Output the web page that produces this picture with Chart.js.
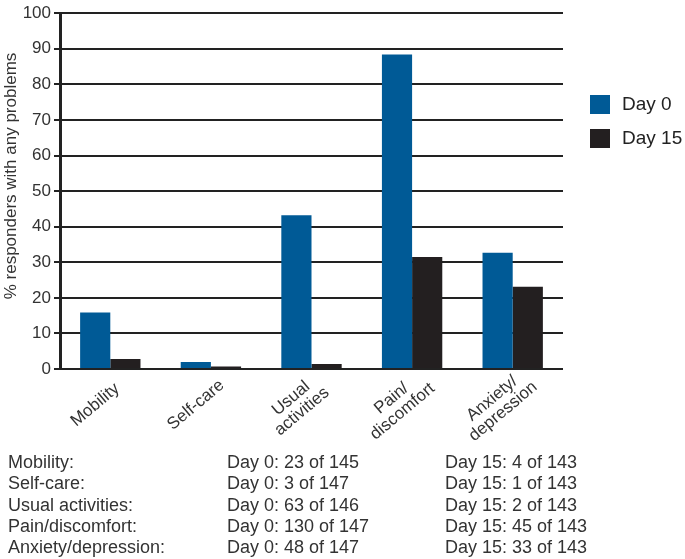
<!DOCTYPE html>
<html>
<head>
<meta charset="utf-8">
<script src="https://cdn.jsdelivr.net/npm/chart.js@4.4.1/dist/chart.umd.min.js"></script>
<style>
body { margin: 0; background: #fff; }
#wrap { position: relative; width: 685px; height: 559px; }
#table div { position: absolute; font: 18px "Liberation Sans", Arial, sans-serif; color: #333; white-space: nowrap; line-height: 20px; }
</style>
</head>
<body>
<div id="wrap">
  <canvas id="chart" width="685" height="559"></canvas>
  <div id="table"></div>
</div>
<script>
// chart data
var categories = [['Mobility'], ['Self-care'], ['Usual', 'activities'], ['Pain/', 'discomfort'], ['Anxiety/', 'depression']];
var day0 = [15.9, 2.0, 43.2, 88.4, 32.7];
var day15 = [2.8, 0.7, 1.4, 31.5, 23.1];
var yTicks = [0, 10, 20, 30, 40, 50, 60, 70, 80, 90, 100];
var yTitle = '% responders with any problems';

// table under the chart
var tableNames = ['Mobility:', 'Self-care:', 'Usual activities:', 'Pain/discomfort:', 'Anxiety/depression:'];
var day0Counts = [23, 3, 63, 130, 48];
var day0Totals = [145, 147, 146, 147, 147];
var day15Counts = [4, 1, 2, 45, 33];
var day15Totals = [143, 143, 143, 143, 143];

var FONT = '"Liberation Sans", Arial, sans-serif';
var BLUE = '#005a96';
var BLACK = '#231f20';

// legend, rotated category labels (lines centred) and y title
var extras = {
    id: 'extras',
    afterDraw: function (chart) {
        var ctx = chart.ctx;
        ctx.save();
        ctx.font = '19px ' + FONT;
        ctx.textBaseline = 'middle';
        chart.data.datasets.forEach(function (ds, i) {
            var y = 95 + i * 34;
            ctx.fillStyle = ds.backgroundColor;
            ctx.fillRect(590, y, 20, 19);
            ctx.fillStyle = '#222';
            ctx.fillText(ds.label, 622, y + 10);
        });

        var xs = chart.scales.x;
        ctx.font = '17px ' + FONT;
        ctx.fillStyle = '#333';
        ctx.textAlign = 'center';
        chart.data.labels.forEach(function (lines, i) {
            var cx = xs.getPixelForTick(i) - 15;
            var cy = chart.chartArea.bottom + 36;
            ctx.save();
            ctx.translate(cx, cy);
            ctx.rotate(-40 * Math.PI / 180);
            lines.forEach(function (t, j) {
                ctx.fillText(t, 0, (j - (lines.length - 1) / 2) * 17);
            });
            ctx.restore();
        });

        ctx.translate(11, 176);
        ctx.rotate(-Math.PI / 2);
        ctx.fillText(yTitle, 0, 0);
        ctx.restore();
    }
};

var ctx = document.getElementById('chart').getContext('2d');
var chart = new Chart(ctx, {
    type: 'bar',
    data: {
        labels: categories,
        datasets: [{
            label: 'Day 0',
            data: day0,
            backgroundColor: BLUE
        }, {
            label: 'Day 15',
            data: day15,
            backgroundColor: BLACK
        }]
    },
    options: {
        responsive: false,
        animation: false,
        categoryPercentage: 0.6,
        barPercentage: 1.0,
        layout: { padding: { left: 0, top: 8, right: 122, bottom: 0 } },
        plugins: {
            legend: { display: false },
            tooltip: { enabled: false }
        },
        scales: {
            x: {
                grid: { display: false },
                border: { display: false },
                ticks: { display: false },
                afterFit: function (scale) { scale.height = 190; }
            },
            y: {
                min: 0,
                max: 100,
                afterBuildTicks: function (scale) {
                    scale.ticks = yTicks.map(function (v) { return { value: v }; });
                },
                grid: { color: '#222', lineWidth: 2, tickLength: 6 },
                border: { color: '#222', width: 3 },
                ticks: {
                    color: '#333',
                    font: { family: FONT, size: 17 },
                    padding: 3
                },
                afterFit: function (scale) { scale.width = 60; }
            }
        }
    },
    plugins: [extras]
});

// build the table text
var table = document.getElementById('table');
var colX = [8, 227, 445];
tableNames.forEach(function (name, i) {
    var texts = [
        name,
        'Day 0: ' + day0Counts[i] + ' of ' + day0Totals[i],
        'Day 15: ' + day15Counts[i] + ' of ' + day15Totals[i]
    ];
    texts.forEach(function (t, j) {
        var d = document.createElement('div');
        d.textContent = t;
        d.style.left = colX[j] + 'px';
        d.style.top = (452 + i * 21.3) + 'px';
        table.appendChild(d);
    });
});
</script>
</body>
</html>
